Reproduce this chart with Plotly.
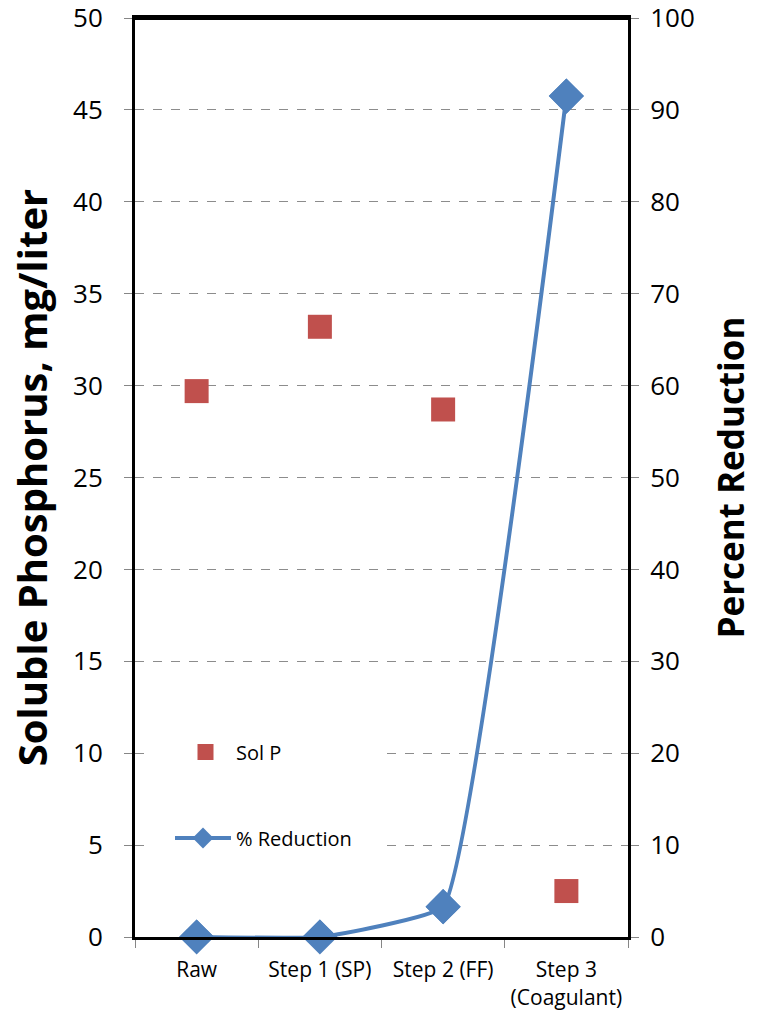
import plotly.graph_objects as go

categories = ["Raw", "Step 1 (SP)", "Step 2 (FF)", "Step 3<br>(Coagulant)"]
sol_p = [29.7, 33.2, 28.7, 2.5]
pct_reduction = [0.0, 0.0, 3.3, 91.5]

FONT = "Open Sans"
RED = "#C0504D"
BLUE = "#4F81BD"

PL, PR, PT, PB = 135, 628, 18, 937
W, H = 766, 1011
PW, PH = PR - PL, PB - PT

fig = go.Figure()
fig.add_trace(go.Scatter(
    x=categories, y=sol_p, name="Sol P", mode="markers",
    marker=dict(symbol="square", size=24, color=RED),
    legend="legend", cliponaxis=False,
))
fig.add_trace(go.Scatter(
    x=categories, y=pct_reduction, name="% Reduction", mode="lines+markers",
    line=dict(color=BLUE, width=4, shape="spline", smoothing=0.3),
    marker=dict(symbol="diamond", size=27, color=BLUE),
    yaxis="y2", legend="legend2", cliponaxis=True,
))
fig.add_trace(go.Scatter(
    x=categories, y=pct_reduction, name="% Reduction", mode="markers",
    marker=dict(symbol="diamond", size=27, color=BLUE),
    yaxis="y2", showlegend=False, cliponaxis=False,
))

# white box behind the legends (covers the gridlines there)
fig.add_shape(type="rect", xref="paper", yref="paper", layer="above",
              x0=(148 - PL) / PW, x1=(385 - PL) / PW,
              y0=(PB - 880) / PH, y1=(PB - 705) / PH,
              fillcolor="white", line=dict(width=0))
# thicker top border as in the reference
fig.add_shape(type="line", xref="paper", yref="paper", layer="above",
              x0=0, x1=1, y0=1, y1=1, line=dict(color="black", width=4))

fig.update_layout(
    width=W, height=H,
    margin=dict(l=PL, r=W - PR, t=PT, b=H - PB),
    paper_bgcolor="white", plot_bgcolor="white",
    font=dict(family=FONT, color="black"),
    showlegend=True,
    legend=dict(x=(175 - PL) / PW, y=(PB - 752) / PH, xanchor="left", yanchor="middle",
                bgcolor="rgba(0,0,0,0)", font=dict(size=20, family=FONT),
                itemwidth=51),
    legend2=dict(x=(170 - PL) / PW, y=(PB - 838) / PH, xanchor="left", yanchor="middle",
                 bgcolor="rgba(0,0,0,0)", font=dict(size=20, family=FONT),
                 itemwidth=56),
    xaxis=dict(
        type="category", range=[-0.5, 3.5], automargin=False,
        showline=True, linecolor="black", linewidth=3, mirror=True,
        ticks="outside", tickson="boundaries", ticklen=8, tickcolor="#868686",
        tickfont=dict(size=21), showgrid=False, ticklabelstandoff=12,
        ticklabeloverflow="allow",
    ),
    yaxis=dict(
        range=[0, 50], dtick=5, automargin=False,
        showline=True, linecolor="black", linewidth=3,
        ticks="outside", ticklen=8, tickcolor="#868686",
        tickfont=dict(size=26), ticklabelstandoff=16, ticklabeloverflow="allow",
        showgrid=True, gridcolor="#8c8c8c", griddash="dash", gridwidth=1,
        zeroline=False,
        title=dict(text="<b>Soluble Phosphorus, mg/liter</b>", font=dict(size=40), standoff=14),
    ),
    yaxis2=dict(
        range=[0, 100], dtick=10, overlaying="y", side="right", automargin=False,
        showline=True, linecolor="black", linewidth=3,
        ticks="outside", ticklen=8, tickcolor="#868686",
        tickfont=dict(size=26), ticklabelstandoff=6, ticklabeloverflow="allow",
        showgrid=False, zeroline=False,
        title=dict(text="<b>Percent Reduction</b>", font=dict(size=35), standoff=26),
    ),
)

fig.write_html("out.html", config={"displayModeBar": False},
               post_script="document.body.style.margin='0';")
